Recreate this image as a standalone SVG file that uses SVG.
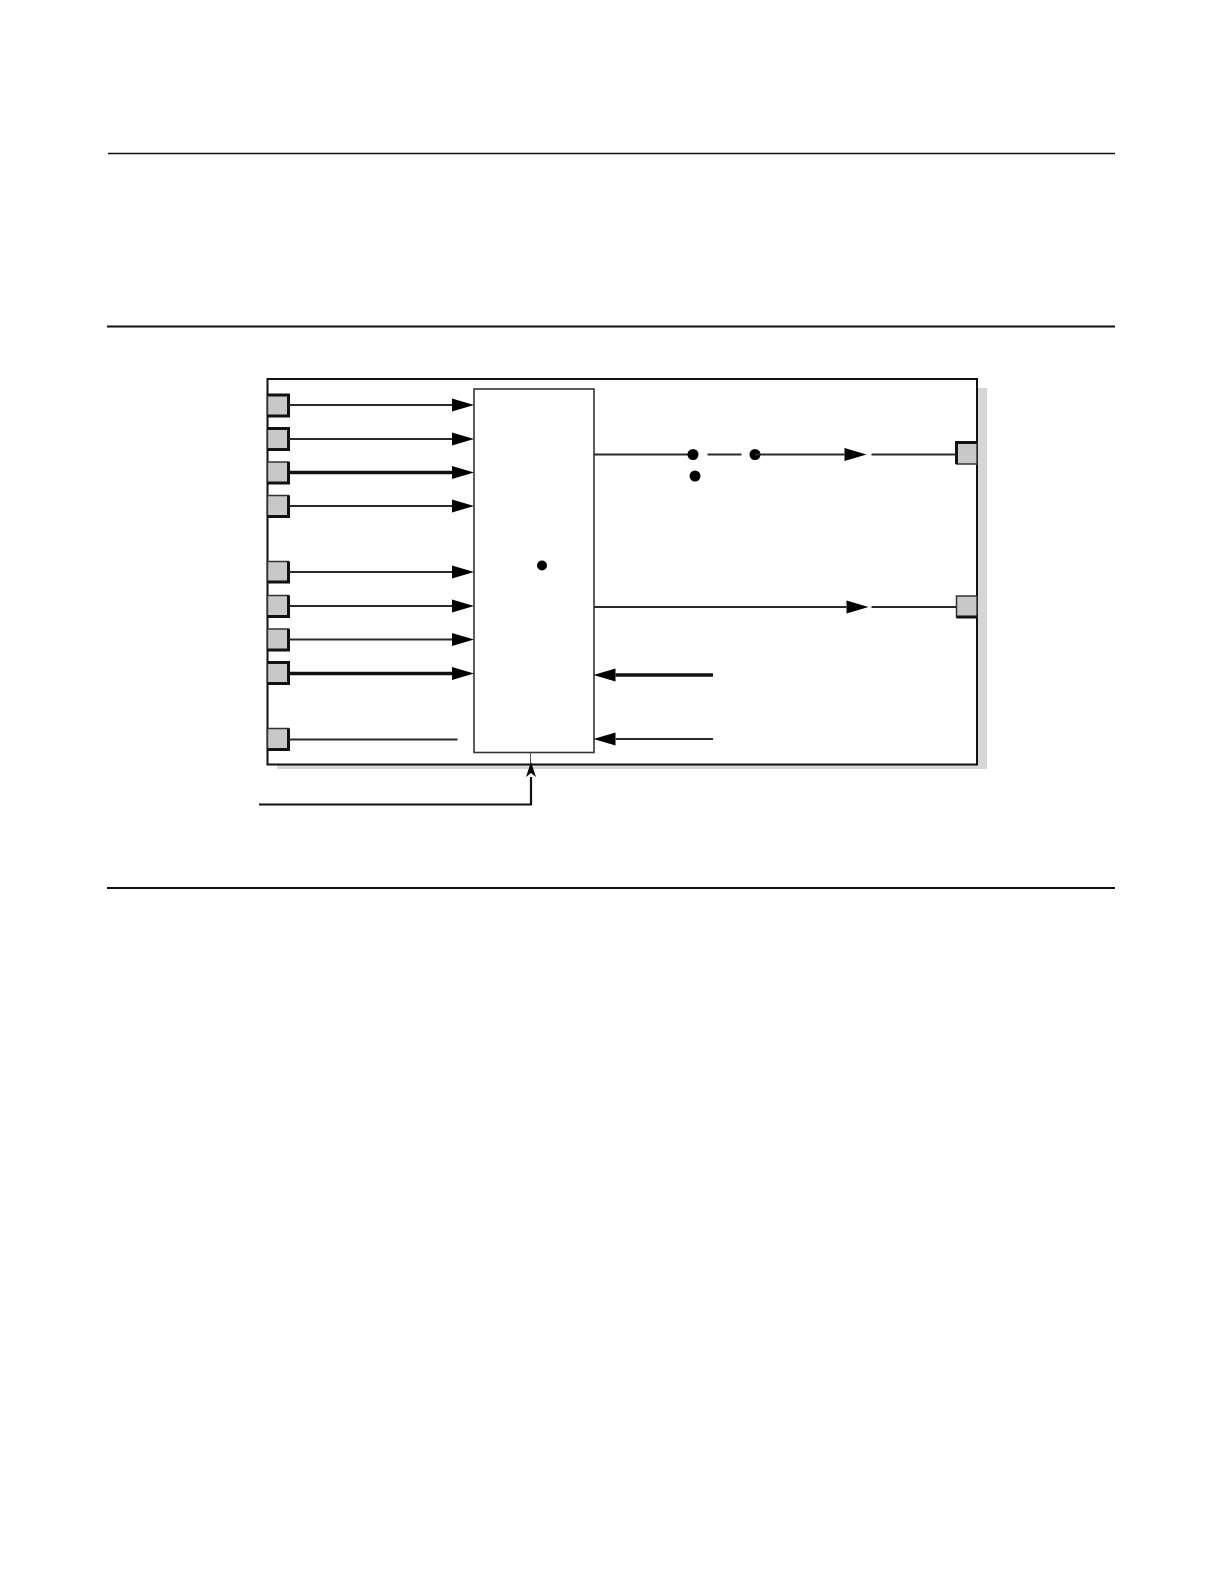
<svg xmlns="http://www.w3.org/2000/svg" width="1224" height="1584" viewBox="0 0 1224 1584">
<defs>
<style>
.rule{stroke:#111;fill:none}
.port rect{fill:#c8c8c8;stroke:#333;stroke-width:1.5}
.port polyline{fill:none;stroke:#111;stroke-width:3}
.ln{stroke:#2a2a2a;stroke-width:1.8;fill:none}
.thk{stroke:#111;stroke-width:3.5;fill:none}
.ctl{stroke:#111;stroke-width:2.2;fill:none}
.dot{fill:#000}
</style>
<marker id="ah" viewBox="0 -7 22 14" markerWidth="22" markerHeight="14" refX="0" refY="0" orient="auto" markerUnits="userSpaceOnUse" overflow="visible">
<path d="M0,-6.5 L22,0 L0,6.5 z" fill="#000"/>
</marker>
<marker id="barb" viewBox="0 -6 16 12" markerWidth="16" markerHeight="12" refX="0" refY="0" orient="auto" markerUnits="userSpaceOnUse" overflow="visible">
<path d="M0,-5 L15,0 L0,5 L4,0 z" fill="#000"/>
</marker>
</defs>
<rect width="1224" height="1584" fill="#fff"/>
<g id="rules">
<line class="rule" x1="108" y1="153.5" x2="1115" y2="153.5" stroke-width="1.3"/>
<line class="rule" x1="107" y1="326.5" x2="1115" y2="326.5" stroke-width="2"/>
<line class="rule" x1="107" y1="888" x2="1115" y2="888" stroke-width="2"/>
</g>
<g id="outer-box">
<rect x="277" y="388" width="710" height="381" fill="#d6d6d6"/>
<rect x="267.5" y="379" width="709.5" height="385.5" fill="#fff" stroke="#111" stroke-width="2"/>
</g>
<g id="inner-box">
<rect x="474" y="389" width="120" height="363.5" fill="#fff" stroke="#333" stroke-width="1.6"/>
<circle class="dot" cx="542" cy="565.5" r="5"/>
</g>
<g id="ports-left">
<g class="port" id="port-l1"><rect x="267.5" y="395" width="21" height="21"/><polyline points="267.5,395 288.5,395 288.5,416 267.5,416"/></g>
<g class="port" id="port-l2"><rect x="267.5" y="428.5" width="21" height="21"/><polyline points="267.5,428.5 288.5,428.5 288.5,449.5 267.5,449.5"/></g>
<g class="port" id="port-l3"><rect x="267.5" y="462" width="21" height="21"/><polyline points="288.5,462 288.5,483 267.5,483"/></g>
<g class="port" id="port-l4"><rect x="267.5" y="495.5" width="21" height="21"/><polyline points="288.5,495.5 288.5,516.5 267.5,516.5"/></g>
<g class="port" id="port-l5"><rect x="267.5" y="561.5" width="21" height="20.5"/><polyline points="288.5,561.5 288.5,582 267.5,582"/></g>
<g class="port" id="port-l6"><rect x="267.5" y="595.5" width="21" height="21"/><polyline points="288.5,595.5 288.5,616.5 267.5,616.5"/></g>
<g class="port" id="port-l7"><rect x="267.5" y="629" width="21" height="21"/><polyline points="288.5,629 288.5,650 267.5,650"/></g>
<g class="port" id="port-l8"><rect x="267.5" y="662.5" width="21" height="21"/><polyline points="267.5,662.5 288.5,662.5 288.5,683.5 267.5,683.5"/></g>
<g class="port" id="port-l9"><rect x="267.5" y="728.5" width="21" height="21"/><polyline points="288.5,728.5 288.5,749.5 267.5,749.5"/></g>
</g>
<g id="ports-right">
<g class="port" id="port-r1"><rect x="956.5" y="442.5" width="20.5" height="21.5"/><polyline points="956.5,464 956.5,442.5 977,442.5"/></g>
<g class="port" id="port-r2"><rect x="956.5" y="596" width="20.5" height="21"/><polyline points="956.5,617 977,617"/></g>
</g>
<g id="connectors">
<line class="ln" x1="289" y1="405" x2="452" y2="405" marker-end="url(#ah)"/>
<line class="ln" x1="289" y1="439" x2="452" y2="439" marker-end="url(#ah)"/>
<line class="thk" x1="289" y1="472.5" x2="452" y2="472.5" marker-end="url(#ah)"/>
<line class="ln" x1="289" y1="506" x2="452" y2="506" marker-end="url(#ah)"/>
<line class="ln" x1="289" y1="572" x2="452" y2="572" marker-end="url(#ah)"/>
<line class="ln" x1="289" y1="606" x2="452" y2="606" marker-end="url(#ah)"/>
<line class="ln" x1="289" y1="639.5" x2="452" y2="639.5" marker-end="url(#ah)"/>
<line class="thk" x1="289" y1="673.5" x2="452" y2="673.5" marker-end="url(#ah)"/>
<line class="ln" x1="289" y1="739.5" x2="457.5" y2="739.5"/>
<line class="ln" x1="594" y1="454.5" x2="693" y2="454.5"/>
<circle class="dot" cx="693" cy="454.5" r="5.5"/>
<line class="ln" x1="707.5" y1="454.5" x2="741.5" y2="454.5"/>
<circle class="dot" cx="755" cy="454.5" r="5.5"/>
<circle class="dot" cx="695" cy="476" r="5.5"/>
<line class="ln" x1="755" y1="454.5" x2="844.5" y2="454.5" marker-end="url(#ah)"/>
<line class="ln" x1="871.5" y1="454.5" x2="956.5" y2="454.5"/>
<line class="ln" x1="594" y1="607" x2="846.5" y2="607" marker-end="url(#ah)"/>
<line class="ln" x1="871.5" y1="607" x2="956.5" y2="607"/>
<line class="thk" x1="713" y1="675" x2="615.5" y2="675" marker-end="url(#ah)"/>
<line class="ln" x1="713" y1="739" x2="615.5" y2="739" marker-end="url(#ah)"/>
<line x1="530.5" y1="752.5" x2="530.5" y2="764" stroke="#555" stroke-width="1"/>
<polyline class="ctl" points="259,804.5 531,804.5 531,777" marker-end="url(#barb)"/>
</g>
</svg>
